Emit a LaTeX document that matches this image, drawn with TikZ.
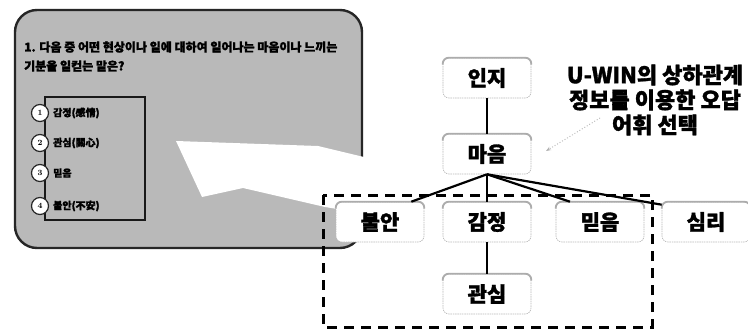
\documentclass[tikz,border=0pt]{standalone}
\usepackage{fontspec}
\newfontfamily\kr{Noto Sans CJK KR}[BoldFeatures={FakeBold=1.5}]
\usetikzlibrary{arrows.meta}
\tikzset{
 x=1pt, y=-1pt,
 kbox/.style={draw=gray!55, line width=0.6pt, dash pattern=on 1.5pt off 0.8pt, rounded corners=6pt, fill=white, minimum width=88pt, minimum height=40pt, inner sep=0pt, font=\kr\bfseries\fontsize{21}{24}\selectfont},
 link/.style={line width=2.2pt, black},
 grp/.style={line width=3pt, black, dash pattern=on 10pt off 7pt},
 opt/.style={circle, draw=black!85, line width=1.2pt, fill=white, minimum size=17pt, inner sep=0pt, font=\bfseries\fontsize{8}{8}\selectfont},
 opttext/.style={anchor=west, inner sep=0pt, font=\kr\bfseries\fontsize{10}{10}\selectfont},
 qtext/.style={anchor=west, inner sep=0pt, font=\kr\bfseries\fontsize{12}{12}\selectfont},
 note/.style={align=center, font=\kr\bfseries\fontsize{22}{25}\selectfont, inner sep=0pt},
}
\newcommand\topband[1]{\draw[gray!65, line width=1.8pt, rounded corners=6pt] ([yshift=-7pt]#1.north west) -- (#1.north west) -- (#1.north east) -- ([yshift=-7pt]#1.north east);}
\begin{document}
\begin{tikzpicture}
\useasboundingbox (0,0) rectangle (748,329);
\clip (0,0) rectangle (748,329);
\fill[white] (0,0) rectangle (748,329);

% question panel
\draw[line width=2.4pt, black!85, fill=gray!55, rounded corners=22pt] (15,10) rectangle (362,248);
\node[qtext] (q1) at (24,47) {1. 다음 중 어떤 현상이나 일에 대하여 일어나는 마음이나 느끼는};
\node[qtext] (q2) at (24,66) {기분을 일컫는 말은?};
\draw[line width=2.2pt, black!90] (45,97) rectangle (145,220);
\node[opt] (o1) at (40,113) {1};
\node[opt] (o2) at (40,143) {2};
\node[opt] (o3) at (40,173) {3};
\node[opt] (o4) at (40,206) {4};
\node[opttext] (t1) at (53,113) {감정(感情)};
\node[opttext] (t2) at (53,143) {관심(關心)};
\node[opttext] (t3) at (53,173) {믿음};
\node[opttext] (t4) at (53,206) {불안(不安)};

% big white arrow
\fill[white] (176,141) -- (318,146) -- (368,158) -- (368,214) -- (325,207) -- (243,188) -- (202,197) -- cycle;

% tree
\node[kbox] (inji) at (487,78) {인지};
\node[kbox] (maum) at (487,154) {마음};
\node[kbox] (buran) at (380,222) {불안};
\node[kbox] (gam) at (487,222) {감정};
\node[kbox] (mid) at (600,222) {믿음};
\node[kbox] (sim) at (706,222) {심리};
\node[kbox] (gwan) at (487,294) {관심};
\foreach \n in {inji,maum,buran,gam,mid,sim,gwan} {\topband{\n}}

\draw[link] (inji.south) -- (maum.north);
\draw[link] (maum.south) -- ([xshift=-13pt]buran.north east);
\draw[link] (maum.south) -- (gam.north);
\draw[link] (maum.south) -- ([xshift=-30pt]mid.north);
\draw[link] (maum.south) -- ([yshift=-3pt]sim.north west);
\draw[link] (gam.south) -- (gwan.north);

% dashed group
\draw[grp] (323,195) rectangle (652,327);

% note
\node[note] (note) at (655,100) {U-WIN의 상하관계\\정보를 이용한 오답\\어휘 선택};
\coordinate (noteend) at (600,118);
\coordinate (tip) at (546,151);
\draw[gray!60, dotted, line width=0.9pt, -{Stealth[length=5pt]}] (noteend) -- (tip);
\end{tikzpicture}
\end{document}
